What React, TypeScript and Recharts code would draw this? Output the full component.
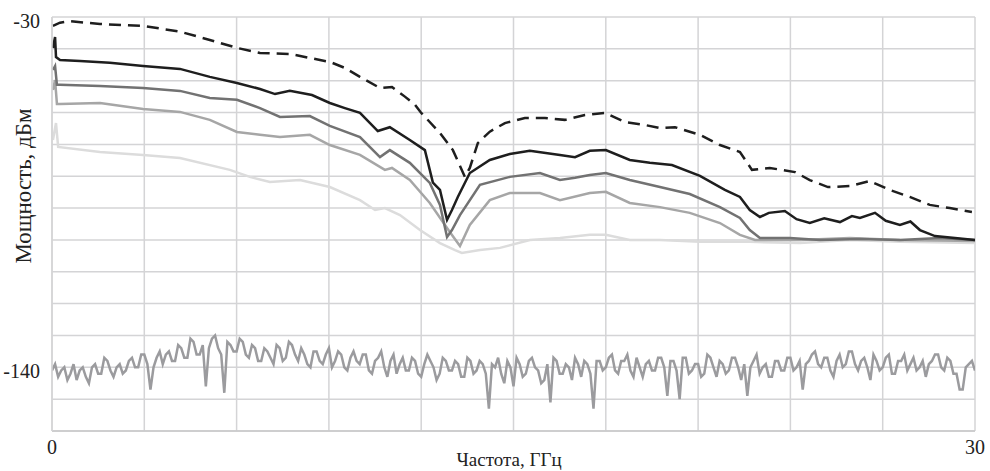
import React from 'react';
import { LineChart, Line, XAxis, YAxis, CartesianGrid } from 'recharts';

// частота, ГГц
const xTicks = [0, 3, 6, 9, 12, 15, 18, 21, 24, 27, 30];
const yTicks = [-160, -150, -140, -130, -120, -110, -100, -90, -80, -70, -60, -50, -40, -30];
const xLabels = [0, 30];
const yLabels = [-30, -140];

// dashed trace (top)
const dashF = [0.03, 0.26, 0.58, 1.56, 2.96, 4.16, 5.13, 6.01, 6.76, 7.73, 8.71, 9.03, 9.52, 10.01, 10.66, 11.05, 11.47, 11.8, 11.99, 12.61, 13.03, 13.42, 13.58, 13.84, 14.23, 14.72, 15.37, 16.02, 16.67, 17.32, 17.97, 18.62, 19.27, 19.76, 20.25, 21.06, 21.71, 22.36, 22.75, 23.33, 24.15, 24.63, 25.22, 25.93, 26.58, 27.23, 27.88, 28.53, 29.18, 29.9];
const dashV = [-32.8, -31.8, -31.3, -32.2, -32.8, -34.6, -37.2, -39.7, -41.3, -41.6, -43.5, -44.1, -46, -48.8, -52.3, -52, -55, -57.6, -60, -66.4, -71.8, -80.2, -77.4, -69.6, -66, -63.3, -61.7, -61.7, -62.3, -60.8, -60.1, -63, -63.9, -64.9, -64.6, -67, -70.2, -72.4, -78, -77.4, -78.7, -81.2, -83.4, -83.1, -81.5, -84.3, -86.5, -89, -90, -91.2];

// solid black
const blackF = [0.03, 0.1, 0.13, 0.26, 0.91, 1.88, 2.96, 4.16, 5.13, 6.01, 6.76, 7.25, 7.73, 8.45, 9.03, 9.52, 10.01, 10.59, 10.98, 11.63, 12.12, 12.38, 12.61, 12.84, 13.0, 13.19, 13.58, 14.23, 14.88, 15.53, 16.51, 17.0, 17.48, 18.0, 18.78, 19.43, 20.15, 21.06, 21.87, 22.36, 22.68, 23.01, 23.3, 23.82, 24.2, 24.63, 25.1, 25.61, 26.0, 26.26, 26.75, 27.1, 27.56, 27.9, 28.21, 28.7, 29.35, 30];
const blackV = [-39.7, -36.3, -42.6, -43.5, -43.8, -44.4, -45.4, -46.3, -48.8, -50.7, -52.6, -54.2, -53.2, -54.5, -57, -58.6, -60.1, -65.8, -64.6, -68.6, -71.8, -82, -84.3, -93.7, -90.6, -86.5, -79, -74.9, -73, -72, -73.3, -74, -72, -71.8, -74.9, -75.8, -76.5, -79.9, -84.3, -86.5, -90.6, -92.8, -91.5, -90.9, -93.5, -94.7, -93.2, -94.4, -92.5, -93.1, -91.5, -94, -95.3, -94.2, -96.9, -98.8, -99.4, -100];

// dark grey
const darkF = [0.03, 0.1, 0.16, 0.26, 1.56, 2.96, 4.16, 5.13, 6.01, 6.76, 7.41, 8.38, 9.03, 10.01, 10.66, 10.98, 11.63, 12.28, 12.61, 12.84, 13.0, 13.26, 13.91, 14.88, 15.86, 16.51, 17.0, 17.48, 18.0, 18.78, 19.76, 20.73, 21.71, 22.36, 22.68, 23.01, 23.98, 24.96, 26.26, 27.56, 28.86, 30];
const darkV = [-46.6, -45.4, -51.3, -51.3, -51.7, -52.3, -53.2, -55.4, -56, -58.6, -61.4, -61.1, -64.2, -67.7, -74, -71.8, -75.8, -82.1, -89, -99.1, -96.9, -92.2, -82.7, -80.2, -79, -81.2, -80.5, -79.6, -79, -81.2, -83.4, -85.6, -89.7, -93.1, -96.9, -99.4, -99.4, -100, -99.7, -100, -99.4, -100];

// medium grey
const midF = [0.03, 0.1, 0.16, 0.26, 1.56, 2.96, 4.16, 5.13, 6.01, 6.76, 7.41, 8.38, 9.03, 10.01, 10.82, 11.05, 11.63, 12.28, 12.93, 13.26, 13.58, 14.23, 14.88, 15.86, 16.51, 17.48, 18.0, 18.78, 19.76, 20.73, 21.71, 22.36, 22.85, 24.31, 25.93, 27.56, 30];
const midV = [-52.9, -49.8, -57.3, -57.3, -57, -58.9, -59.8, -62.3, -66.1, -67, -67.7, -67, -70.2, -73.3, -78, -77.4, -81.2, -88.4, -97.5, -101.9, -95.3, -87.5, -85.3, -85.3, -87.5, -85.3, -84.9, -88.4, -89.7, -91.5, -94.7, -98.4, -100, -100, -99.4, -100, -100.3];

// light grey
const lightF = [0.03, 0.13, 0.2, 1.56, 2.96, 4.16, 5.78, 6.43, 7.08, 8.06, 9.03, 10.01, 10.5, 10.82, 11.31, 11.96, 12.61, 13.1, 13.32, 13.91, 14.56, 15.53, 16.51, 17.48, 18.0, 18.78, 19.76, 21.06, 22.68, 24.31, 25.93, 27.56, 30];
const lightV = [-68.6, -63.3, -70.8, -72.4, -73.3, -74.3, -78, -80.2, -81.8, -81.2, -83.4, -87.5, -90.6, -90, -92.2, -96.9, -101, -103.2, -104.1, -103.2, -102.5, -100, -99.4, -98.4, -98.4, -100, -100, -100.6, -100.6, -101, -100, -100.6, -101];

// noise floor, one value every 0.1 GHz
const noiseV = [
  -141, -139, -143, -141, -140, -144, -142, -139, -144, -141, -140, -143, -145, -140, -139, -142, -142, -137, -138, -141,
  -143, -140, -139, -142, -141, -138, -137, -140, -140, -136, -136, -139, -147, -140, -137, -135, -139, -136, -135, -138,
  -138, -133, -134, -137, -137, -131, -132, -136, -136, -133, -146, -134, -131, -130, -134, -136, -148, -132, -133, -135,
  -135, -131, -132, -136, -137, -133, -134, -138, -138, -134, -135, -137, -139, -133, -134, -138, -137, -132, -133, -136,
  -138, -134, -136, -139, -140, -135, -135, -138, -139, -136, -134, -140, -138, -135, -136, -140, -141, -137, -135, -138,
  -139, -136, -136, -141, -142, -138, -137, -135, -140, -143, -138, -136, -142, -139, -137, -141, -141, -137, -138, -142,
  -143, -139, -136, -138, -140, -144, -142, -137, -138, -141, -141, -138, -139, -143, -143, -137, -138, -142, -141, -138,
  -139, -142, -153, -139, -140, -137, -142, -145, -138, -140, -146, -137, -139, -143, -142, -138, -137, -140, -141, -145,
  -144, -139, -151, -137, -138, -142, -142, -139, -140, -144, -137, -139, -143, -138, -139, -142, -153, -138, -138, -141,
  -140, -137, -136, -141, -142, -138, -138, -136, -141, -143, -137, -140, -143, -139, -138, -141, -141, -137, -137, -140,
  -149, -138, -138, -141, -150, -137, -137, -142, -141, -139, -139, -143, -142, -136, -137, -140, -143, -138, -139, -142,
  -141, -137, -137, -140, -144, -139, -149, -140, -138, -136, -142, -140, -139, -143, -143, -138, -138, -141, -141, -137,
  -137, -141, -140, -138, -147, -139, -138, -136, -135, -139, -140, -137, -137, -141, -143, -138, -136, -140, -139, -135,
  -135, -139, -141, -138, -137, -140, -144, -136, -138, -141, -140, -137, -136, -142, -142, -138, -138, -136, -141, -139,
  -137, -141, -140, -138, -143, -139, -138, -136, -136, -140, -141, -137, -138, -142, -142, -147, -147, -140, -139, -138,
  -141,
];

const zip = (f: number[], v: number[]) => f.map((x, i) => ({ f: x, v: v[i] }));

const dashData = zip(dashF, dashV);
const blackData = zip(blackF, blackV);
const darkData = zip(darkF, darkV);
const midData = zip(midF, midV);
const lightData = zip(lightF, lightV);
const noiseData = noiseV.map((v, i) => ({ f: i / 10, v }));

const FONT = '"Liberation Serif", "DejaVu Serif", serif';

const YTick = ({ x, y, payload }: any) => {
  if (!yLabels.includes(payload.value)) return null;
  return (
    <text x={x - 4} y={y + 6} textAnchor="end" dominantBaseline="middle" fontFamily={FONT} fontSize={20} fill="#222">
      {payload.value}
    </text>
  );
};

const XTick = ({ x, y, payload }: any) => {
  if (!xLabels.includes(payload.value)) return null;
  return (
    <text x={x} y={y + 15} textAnchor="middle" fontFamily={FONT} fontSize={20} fill="#222">
      {payload.value}
    </text>
  );
};

export default function App() {
  return (
    <div style={{ position: 'absolute', left: 0, top: 0, width: 990, height: 471, background: '#fff' }}>
      <LineChart width={990} height={471} margin={{ top: 17, right: 15, bottom: 15, left: 0 }}>
        <CartesianGrid stroke="#d4d4d6" strokeWidth={1.5} horizontalValues={yTicks} verticalValues={xTicks} />
        <XAxis
          type="number"
          dataKey="f"
          domain={[0, 30]}
          ticks={xTicks}
          height={25}
          tick={<XTick />}
          tickLine={false}
          axisLine={{ stroke: '#c8c8ca', strokeWidth: 1.5 }}
          allowDataOverflow
        />
        <YAxis
          type="number"
          dataKey="v"
          domain={[-160, -30]}
          ticks={yTicks}
          width={52}
          tick={<YTick />}
          tickLine={false}
          axisLine={{ stroke: '#d4d4d6', strokeWidth: 1.5 }}
          allowDataOverflow
        />
        <Line data={noiseData} dataKey="v" type="linear" stroke="#9b9b9e" strokeWidth={2.5} dot={false} isAnimationActive={false} />
        <Line data={lightData} dataKey="v" type="linear" stroke="#dcdcdc" strokeWidth={2.5} dot={false} isAnimationActive={false} />
        <Line data={midData} dataKey="v" type="linear" stroke="#a6a6a6" strokeWidth={2.5} dot={false} isAnimationActive={false} />
        <Line data={darkData} dataKey="v" type="linear" stroke="#727272" strokeWidth={2.5} dot={false} isAnimationActive={false} />
        <Line data={blackData} dataKey="v" type="linear" stroke="#1e1e1e" strokeWidth={2.5} dot={false} isAnimationActive={false} />
        <Line data={dashData} dataKey="v" type="linear" stroke="#1e1e1e" strokeWidth={2.5} strokeDasharray="12 7" dot={false} isAnimationActive={false} />
        <text x={26} y={186} transform="rotate(-90 26 186)" textAnchor="middle" dominantBaseline="middle" fontFamily={FONT} fontSize={23} fill="#222">
          Мощность, дБм
        </text>
        <text x={509} y={466} textAnchor="middle" fontFamily={FONT} fontSize={19} fill="#222">
          Частота, ГГц
        </text>
      </LineChart>
    </div>
  );
}
